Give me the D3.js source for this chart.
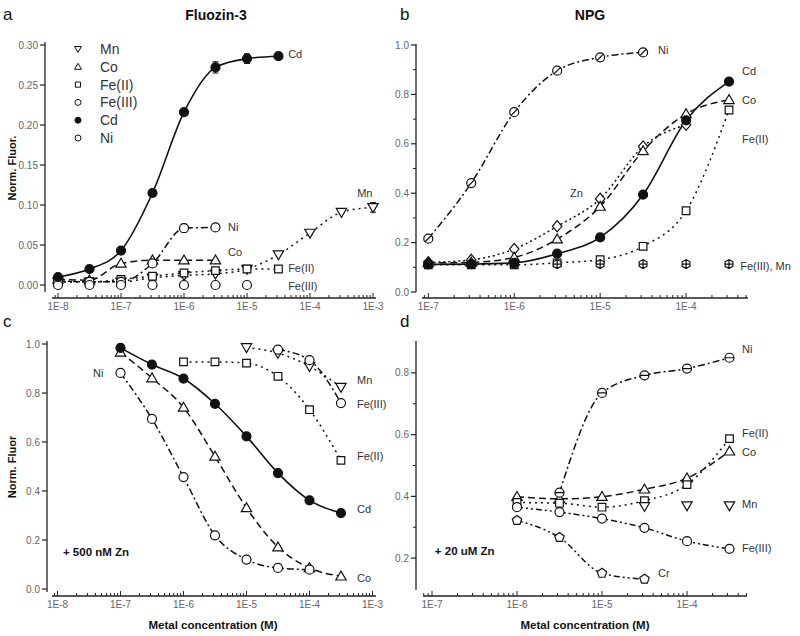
<!DOCTYPE html>
<html>
<head>
<meta charset="utf-8">
<script src="https://cdnjs.cloudflare.com/ajax/libs/d3/7.8.5/d3.min.js"></script>
<style>
  body { margin: 0; background: #fff; }
  svg { display: block; font-family: 'Liberation Sans', Arial, sans-serif; }
</style>
</head>
<body>
<div id="chart"></div>
<script>
// metal concentrations (M), half-decade steps
const concA = [1e-8, 3.16e-8, 1e-7, 3.16e-7, 1e-6, 3.16e-6, 1e-5, 3.16e-5, 1e-4, 3.16e-4, 1e-3]
const concB = [1e-7, 3.16e-7, 1e-6, 3.16e-6, 1e-5, 3.16e-5, 1e-4, 3.16e-4]

// a: Fluozin-3
const aCd = [0.010, 0.020, 0.043, 0.115, 0.216, 0.272, 0.283, 0.286]
const aCdErr = [0, 0, 0, 0, 0, 0.007, 0.006, 0]
const aNi = [0.005, 0.004, 0.004, 0.027, 0.071, 0.072]
const aNiErr = [0, 0, 0, 0, 0.005, 0]
const aCo = [0.007, 0.006, 0.027, 0.031, 0.031, 0.031]
const aFe2 = [0.004, 0.004, 0.007, 0.011, 0.015, 0.018, 0.020, 0.020]
const aFe3 = [0, 0, 0, 0, 0, 0, 0]
const aMn = [0.004, 0.004, 0.004, 0.009, 0.012, 0.014, 0.020, 0.038, 0.065, 0.091, 0.097]
const aMnErr = [0, 0, 0, 0, 0, 0, 0, 0, 0, 0, 0.006]

// b: NPG
const bNi = [0.216, 0.441, 0.728, 0.896, 0.950, 0.970]
const bCd = [0.112, 0.113, 0.118, 0.155, 0.221, 0.394, 0.695, 0.852]
const bCo = [0.118, 0.120, 0.140, 0.214, 0.346, 0.571, 0.721, 0.778]
const bZn = [0.120, 0.130, 0.174, 0.266, 0.377, 0.589, 0.677]
const bFe2 = [0.110, 0.110, 0.110, 0.118, 0.131, 0.185, 0.329, 0.737]
const bFe3Mn = [0.113, 0.113, 0.113, 0.113, 0.113, 0.113, 0.113, 0.113]

// c: Fluozin-3 + 500 nM Zn
const cCd = [0.984, 0.916, 0.859, 0.756, 0.623, 0.473, 0.362, 0.310]
const cCo = [0.966, 0.861, 0.741, 0.541, 0.331, 0.171, 0.086, 0.052]
const cNi = [0.882, 0.694, 0.457, 0.219, 0.120, 0.086, 0.079]
const cFe2 = [0.927, 0.927, 0.922, 0.868, 0.732, 0.525]
const cMn = [0.986, 0.963, 0.909, 0.824]
const cFe3 = [0.977, 0.934, 0.759]

// d: NPG + 20 uM Zn
const dNi = [0.412, 0.735, 0.792, 0.814, 0.849]
const dCo = [0.399, 0.392, 0.399, 0.423, 0.459, 0.546]
const dFe2 = [0.380, 0.378, 0.365, 0.386, 0.438, 0.587]
const dMn = [0.368, 0.370, 0.370]
const dFe3 = [0.365, 0.349, 0.328, 0.298, 0.255, 0.230]
const dCr = [0.322, 0.267, 0.151, 0.132]

const legendA = ['Mn', 'Co', 'Fe(II)', 'Fe(III)', 'Cd', 'Ni']
const legendMarks = ['tridown', 'tri', 'square', 'circle', 'filled', 'circle']

const width = 800
const height = 636
const ink = '#111'
const textColor = '#333'
const tickColor = '#666'

// line styles
const dash = {
  solid: null,
  dashed: '7,4',
  dashdot: '7,3,2,3',
  dotted: '2,4',
  dotfine: '2,3',
  dashdotdot: '6,3,2,3,2,3'
}

const svg = d3.select('#chart').append('svg')
  .attr('width', width)
  .attr('height', height)

// marker shapes centred on 0,0
function shape(kind, r) {
  const circ = `M${r},0A${r},${r} 0 1,1 ${-r},0A${r},${r} 0 1,1 ${r},0Z`
  const h = r * 1.15
  switch (kind) {
    case 'circle':
    case 'filled':
      return circ
    case 'circleslash':
      return circ + `M${-r * 0.7},${r * 0.7}L${r * 0.7},${-r * 0.7}`
    case 'circlebar':
      return circ + `M${-r},0L${r},0`
    case 'tri':
      return `M0,${-h}L${h},${h * 0.72}L${-h},${h * 0.72}Z`
    case 'tridown':
      return `M0,${h}L${h},${-h * 0.72}L${-h},${-h * 0.72}Z`
    case 'square': {
      const s = r * 0.85
      return `M${-s},${-s}h${2 * s}v${2 * s}h${-2 * s}Z`
    }
    case 'squarex': {
      const s = r * 0.85
      return `M${-s},${-s}h${2 * s}v${2 * s}h${-2 * s}ZM${-s},${-s}L${s},${s}M${s},${-s}L${-s},${s}`
    }
    case 'diamond':
      return `M0,${-r * 1.25}L${r * 1.05},0L0,${r * 1.25}L${-r * 1.05},0Z`
    case 'hexplus': {
      const pts = d3.range(6).map((i) => {
        const a = Math.PI / 6 + i * Math.PI / 3
        return [r * Math.cos(a), r * Math.sin(a)]
      })
      return 'M' + pts.join('L') + `ZM${-r},0L${r},0M0,${-r}L0,${r}`
    }
    case 'pent': {
      const pts = d3.range(5).map((i) => {
        const a = -Math.PI / 2 + i * 2 * Math.PI / 5
        return [r * 1.1 * Math.cos(a), r * 1.1 * Math.sin(a)]
      })
      return 'M' + pts.join('L') + 'Z'
    }
  }
}

function panel(cfg) {
  const g = svg.append('g')
  const x = d3.scaleLog().domain([1e-7, 1e-3]).range(cfg.xRange)
  if (cfg.xDomain) x.domain(cfg.xDomain)
  const y = d3.scaleLinear().domain(cfg.yDomain).range(cfg.yRange)

  // y axis (detached from x axis, Origin style)
  g.append('line')
    .attr('x1', cfg.yAxisX).attr('x2', cfg.yAxisX)
    .attr('y1', cfg.yLine[0]).attr('y2', cfg.yLine[1])
    .attr('stroke', '#222').attr('stroke-width', 1.3)
  cfg.yTicks.forEach((v) => {
    g.append('line')
      .attr('x1', cfg.yAxisX - 5).attr('x2', cfg.yAxisX)
      .attr('y1', y(v)).attr('y2', y(v))
      .attr('stroke', '#222').attr('stroke-width', 1.2)
    if (cfg.yLabels) {
      g.append('text')
        .attr('x', cfg.yAxisX - 7).attr('y', y(v) + 3.5)
        .attr('text-anchor', 'end')
        .attr('font-size', 10).attr('fill', tickColor)
        .text(d3.format(cfg.yFormat)(v))
    }
  })
  cfg.yMinor.forEach((v) => {
    g.append('line')
      .attr('x1', cfg.yAxisX - 3).attr('x2', cfg.yAxisX)
      .attr('y1', y(v)).attr('y2', y(v))
      .attr('stroke', '#222').attr('stroke-width', 1)
  })

  // x axis, log ticks pointing in
  const x0 = x.invert(cfg.xLine[0])
  const x1 = x.invert(cfg.xLine[1])
  g.append('line')
    .attr('x1', cfg.xLine[0]).attr('x2', cfg.xLine[1])
    .attr('y1', cfg.xAxisY).attr('y2', cfg.xAxisY)
    .attr('stroke', '#222').attr('stroke-width', 1.3)
  for (let e = Math.floor(Math.log10(x0)); e <= Math.ceil(Math.log10(x1)); e++) {
    for (let k = 1; k < 10; k++) {
      const v = k * Math.pow(10, e)
      if (v < x0 * 0.999 || v > x1 * 1.001) continue
      g.append('line')
        .attr('x1', x(v)).attr('x2', x(v))
        .attr('y1', cfg.xAxisY).attr('y2', cfg.xAxisY - (k === 1 ? 5 : 3))
        .attr('stroke', '#222').attr('stroke-width', 1)
      if (k === 1) {
        g.append('text')
          .attr('x', x(v)).attr('y', cfg.xAxisY + 12)
          .attr('text-anchor', 'middle')
          .attr('font-size', 10).attr('fill', tickColor)
          .text('1E' + e)
      }
    }
  }

  const line = d3.line()
    .x((d) => x(d[0]))
    .y((d) => y(d[1]))
    .curve(d3.curveMonotoneX)

  // curves first, markers on top
  cfg.series.forEach((s) => {
    const pts = s.x.map((c, i) => [c, s.y[i]])
    if (s.line) {
      g.append('path')
        .attr('d', line(pts))
        .attr('fill', 'none')
        .attr('stroke', ink)
        .attr('stroke-width', s.line === 'solid' ? 1.6 : 1.5)
        .attr('stroke-dasharray', dash[s.line])
    }
  })
  cfg.series.forEach((s) => {
    const pts = s.x.map((c, i) => [c, s.y[i], s.err ? s.err[i] : 0])
    pts.forEach((p) => {
      if (p[2] > 0) {
        const cx = x(p[0])
        g.append('path')
          .attr('d', `M${cx},${y(p[1] - p[2])}V${y(p[1] + p[2])}M${cx - 3},${y(p[1] + p[2])}h6M${cx - 3},${y(p[1] - p[2])}h6`)
          .attr('stroke', ink).attr('stroke-width', 1).attr('fill', 'none')
      }
    })
    g.append('g')
      .selectAll('path')
      .data(pts)
      .join('path')
      .attr('transform', (d) => `translate(${x(d[0])},${y(d[1])})`)
      .attr('d', shape(s.mark, s.r || 4.5))
      .attr('fill', s.mark === 'filled' ? ink : '#fff')
      .attr('stroke', ink)
      .attr('stroke-width', 1.2)
  })

  // curve labels
  cfg.labels.forEach((l) => {
    g.append('text')
      .attr('x', x(l.x)).attr('y', y(l.y) + 4)
      .attr('font-size', l.bold ? 11.5 : 11)
      .attr('font-weight', l.bold ? 'bold' : 'normal')
      .attr('fill', l.bold ? '#111' : textColor)
      .text(l.t)
  })
  return { g, x, y }
}

// a
panel({
  xDomain: [1e-8, 1e-3], xRange: [58, 373], xLine: [52, 376], xAxisY: 298,
  yDomain: [0, 0.3], yRange: [285, 45], yLine: [292, 42], yAxisX: 45,
  yTicks: [0, 0.05, 0.1, 0.15, 0.2, 0.25, 0.3], yMinor: [], yLabels: true, yFormat: '.2f',
  series: [
    { x: concA.slice(0, 11), y: aMn, err: aMnErr, line: 'dotted', mark: 'tridown' },
    { x: concA.slice(0, 8), y: aFe2, line: 'dotted', mark: 'square' },
    { x: concA.slice(0, 6), y: aCo, line: 'dashed', mark: 'tri' },
    { x: concA.slice(0, 6), y: aNi, err: aNiErr, line: 'dashdot', mark: 'circle' },
    { x: concA.slice(0, 7), y: aFe3, line: null, mark: 'circle' },
    { x: concA.slice(0, 8), y: aCd, err: aCdErr, line: 'solid', mark: 'filled' }
  ],
  labels: [
    { t: 'Cd', x: 4.5e-5, y: 0.289 },
    { t: 'Ni', x: 5.0e-6, y: 0.0725 },
    { t: 'Co', x: 5.0e-6, y: 0.041 },
    { t: 'Fe(II)', x: 4.5e-5, y: 0.021 },
    { t: 'Fe(III)', x: 4.5e-5, y: -0.001 },
    { t: 'Mn', x: 5.6e-4, y: 0.115 }
  ]
})

// b
panel({
  xDomain: [1e-7, 1e-3], xRange: [428.3, 772], xLine: [422, 748], xAxisY: 298,
  yDomain: [0, 1], yRange: [292, 45], yLine: [292, 44], yAxisX: 416,
  yTicks: [0, 0.2, 0.4, 0.6, 0.8, 1.0], yMinor: [0.1, 0.3, 0.5, 0.7, 0.9], yLabels: true, yFormat: '.1f',
  series: [
    { x: concB, y: bFe2, line: 'dotted', mark: 'square' },
    { x: concB.slice(0, 7), y: bZn, line: 'dotfine', mark: 'diamond' },
    { x: concB, y: bCo, line: 'dashed', mark: 'tri' },
    { x: concB.slice(0, 6), y: bNi, line: 'dashdot', mark: 'circleslash' },
    { x: concB, y: bFe3Mn, line: null, mark: 'hexplus' },
    { x: concB, y: bCd, line: 'solid', mark: 'filled' }
  ],
  labels: [
    { t: 'Ni', x: 4.72e-5, y: 0.98 },
    { t: 'Cd', x: 4.49e-4, y: 0.895 },
    { t: 'Co', x: 4.49e-4, y: 0.777 },
    { t: 'Fe(II)', x: 4.49e-4, y: 0.619 },
    { t: 'Zn', x: 4.47e-6, y: 0.401 },
    { t: 'Fe(III), Mn', x: 4.26e-4, y: 0.105 }
  ]
})

// c
panel({
  xDomain: [1e-8, 1e-3], xRange: [57.5, 372.5], xLine: [52, 376], xAxisY: 596,
  yDomain: [0, 1], yRange: [589, 344], yLine: [592, 341], yAxisX: 47,
  yTicks: [0, 0.2, 0.4, 0.6, 0.8, 1.0], yMinor: [], yLabels: true, yFormat: '.1f',
  series: [
    { x: concB.slice(2, 8), y: cFe2, line: 'dotted', mark: 'square' },
    { x: concB.slice(4, 8), y: cMn, line: 'dotted', mark: 'tridown' },
    { x: concB.slice(5, 8), y: cFe3, line: 'dashdot', mark: 'circle' },
    { x: concB, y: cCo, line: 'dashed', mark: 'tri' },
    { x: concB.slice(0, 7), y: cNi, line: 'dashdot', mark: 'circle' },
    { x: concB, y: cCd, line: 'solid', mark: 'filled' }
  ],
  labels: [
    { t: 'Ni', x: 3.66e-8, y: 0.882 },
    { t: 'Mn', x: 5.68e-4, y: 0.853 },
    { t: 'Fe(III)', x: 5.68e-4, y: 0.755 },
    { t: 'Fe(II)', x: 5.68e-4, y: 0.543 },
    { t: 'Cd', x: 5.68e-4, y: 0.327 },
    { t: 'Co', x: 5.68e-4, y: 0.045 },
    { t: '+ 500 nM Zn', x: 1.22e-8, y: 0.151, bold: true }
  ]
})

// d
panel({
  xDomain: [1e-7, 1e-3], xRange: [432, 772], xLine: [423, 747], xAxisY: 596,
  yDomain: [0.1, 0.9], yRange: [589, 342], yLine: [590, 341], yAxisX: 416,
  yTicks: [0.2, 0.4, 0.6, 0.8], yMinor: [0.3, 0.5, 0.7], yLabels: true, yFormat: '.1f',
  series: [
    { x: concB.slice(2, 8), y: dCo, line: 'dashed', mark: 'tri' },
    { x: concB.slice(2, 8), y: dFe2, line: 'dotted', mark: 'square' },
    { x: concB.slice(5, 8), y: dMn, line: null, mark: 'tridown' },
    { x: concB.slice(2, 8), y: dFe3, line: 'dashdotdot', mark: 'circle' },
    { x: concB.slice(2, 6), y: dCr, line: 'dashdotdot', mark: 'pent' },
    { x: concB.slice(3, 8), y: dNi, line: 'dashdot', mark: 'circlebar' }
  ],
  labels: [
    { t: 'Ni', x: 4.44e-4, y: 0.878 },
    { t: 'Fe(II)', x: 4.44e-4, y: 0.606 },
    { t: 'Co', x: 4.44e-4, y: 0.544 },
    { t: 'Mn', x: 4.44e-4, y: 0.376 },
    { t: 'Fe(III)', x: 4.44e-4, y: 0.233 },
    { t: 'Cr', x: 4.56e-5, y: 0.152 },
    { t: '+ 20 uM  Zn', x: 1.08e-7, y: 0.223, bold: true }
  ]
})

// legend for panel a
const legend = svg.append('g')
legendA.forEach((name, i) => {
  const ly = 49 + i * 17.8
  legend.append('path')
    .attr('transform', `translate(78,${ly})`)
    .attr('d', shape(legendMarks[i], 3))
    .attr('fill', legendMarks[i] === 'filled' ? ink : '#fff')
    .attr('stroke', ink).attr('stroke-width', 1)
  legend.append('text')
    .attr('x', 100).attr('y', ly + 5)
    .attr('font-size', 14).attr('fill', textColor)
    .text(name)
})

// titles, panel letters, axis titles
const texts = [
  { t: 'a', x: 3, y: 20, size: 17, w: 'normal' },
  { t: 'b', x: 400, y: 20, size: 17, w: 'normal' },
  { t: 'c', x: 3, y: 327, size: 17, w: 'normal' },
  { t: 'd', x: 400, y: 327, size: 17, w: 'normal' },
  { t: 'Fluozin-3', x: 216, y: 20, size: 14, w: 'bold', anchor: 'middle' },
  { t: 'NPG', x: 590, y: 20, size: 14, w: 'bold', anchor: 'middle' },
  { t: 'Metal concentration (M)', x: 213, y: 629, size: 11.5, w: 'bold', anchor: 'middle' },
  { t: 'Metal concentration (M)', x: 585, y: 629, size: 11.5, w: 'bold', anchor: 'middle' }
]
texts.forEach((d) => {
  svg.append('text')
    .attr('x', d.x).attr('y', d.y)
    .attr('text-anchor', d.anchor || 'start')
    .attr('font-size', d.size).attr('font-weight', d.w)
    .attr('fill', '#111')
    .text(d.t)
})
svg.append('text')
  .attr('transform', 'translate(16,168) rotate(-90)')
  .attr('text-anchor', 'middle')
  .attr('font-size', 11).attr('font-weight', 'bold').attr('fill', '#111')
  .text('Norm. Fluor.')
svg.append('text')
  .attr('transform', 'translate(16,467) rotate(-90)')
  .attr('text-anchor', 'middle')
  .attr('font-size', 11).attr('font-weight', 'bold').attr('fill', '#111')
  .text('Norm. Fluor')
</script>
</body>
</html>
